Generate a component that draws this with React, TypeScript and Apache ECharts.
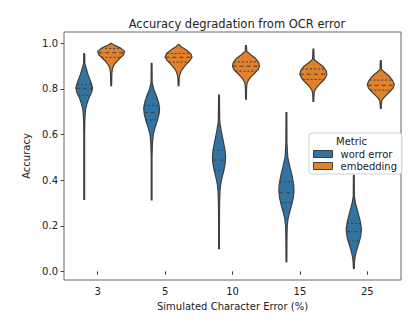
import React, { useEffect, useRef } from "react";
import * as echarts from "echarts";

const categories = ["3", "5", "10", "15", "25"];
const seriesNames = ["word error", "embedding"];
const yTicks = [0.0, 0.2, 0.4, 0.6, 0.8, 1.0];

// Violin outlines: [accuracy, relative half width]
const wordErrorProfiles: number[][][] = [
  [[0.955,0.03],[0.91,0.05],[0.89,0.15],[0.86,0.3],[0.83,0.5],[0.805,0.62],[0.785,0.55],[0.76,0.35],[0.735,0.2],[0.71,0.1],[0.68,0.06],[0.65,0.04],[0.6,0.03],[0.316,0.03]],
  [[0.912,0.03],[0.83,0.04],[0.8,0.15],[0.77,0.35],[0.74,0.52],[0.715,0.59],[0.69,0.55],[0.66,0.42],[0.63,0.25],[0.6,0.12],[0.57,0.07],[0.546,0.05],[0.5,0.03],[0.313,0.03]],
  [[0.773,0.03],[0.66,0.05],[0.62,0.15],[0.57,0.32],[0.53,0.45],[0.5,0.49],[0.47,0.45],[0.44,0.35],[0.41,0.22],[0.38,0.12],[0.35,0.07],[0.29,0.04],[0.2,0.03],[0.1,0.03]],
  [[0.696,0.03],[0.56,0.04],[0.5,0.1],[0.46,0.25],[0.42,0.42],[0.38,0.54],[0.35,0.56],[0.32,0.5],[0.29,0.38],[0.26,0.24],[0.23,0.12],[0.2,0.06],[0.15,0.04],[0.042,0.03]],
  [[0.422,0.03],[0.33,0.04],[0.3,0.12],[0.26,0.3],[0.22,0.48],[0.185,0.57],[0.15,0.5],[0.12,0.35],[0.09,0.2],[0.065,0.1],[0.04,0.05],[0.013,0.03]],
];
const embeddingProfiles: number[][][] = [
  [[1.0,0.03],[0.99,0.3],[0.98,0.7],[0.965,1.0],[0.95,0.92],[0.935,0.65],[0.92,0.4],[0.905,0.2],[0.89,0.1],[0.87,0.05],[0.84,0.04],[0.815,0.03]],
  [[0.995,0.03],[0.985,0.2],[0.97,0.6],[0.955,0.9],[0.94,1.0],[0.925,0.85],[0.91,0.6],[0.895,0.38],[0.88,0.2],[0.865,0.1],[0.85,0.05],[0.815,0.03]],
  [[0.99,0.03],[0.965,0.06],[0.95,0.35],[0.935,0.7],[0.915,0.95],[0.9,1.0],[0.885,0.9],[0.87,0.65],[0.855,0.4],[0.84,0.2],[0.825,0.08],[0.8,0.04],[0.755,0.03]],
  [[0.975,0.03],[0.93,0.06],[0.915,0.35],[0.9,0.7],[0.88,0.95],[0.865,1.0],[0.85,0.9],[0.835,0.7],[0.82,0.45],[0.805,0.22],[0.79,0.08],[0.77,0.04],[0.745,0.03]],
  [[0.925,0.03],[0.885,0.06],[0.87,0.35],[0.855,0.65],[0.835,0.9],[0.82,1.0],[0.805,0.92],[0.79,0.7],[0.775,0.45],[0.76,0.2],[0.75,0.08],[0.73,0.04],[0.715,0.03]],
];
// Quartiles [q3, median, q1]
const wordErrorQuartiles = [
  [0.82, 0.803, 0.773],
  [0.728, 0.697, 0.664],
  [0.532, 0.488, 0.444],
  [0.392, 0.345, 0.301],
  [0.21, 0.174, 0.134],
];
const embeddingQuartiles = [
  [0.978, 0.959, 0.939],
  [0.956, 0.939, 0.918],
  [0.919, 0.9, 0.878],
  [0.888, 0.865, 0.842],
  [0.839, 0.816, 0.795],
];

const colors = ["#3274a1", "#e1812c"];
const edge = "#3f3f3f";
const FONT = "DejaVu Sans";

function widthAt(profile: number[][], v: number): number {
  for (let i = 0; i < profile.length - 1; i++) {
    const [a, wa] = profile[i];
    const [b, wb] = profile[i + 1];
    if (v <= a && v >= b) {
      const t = (a - v) / (a - b || 1);
      return wa + (wb - wa) * t;
    }
  }
  return 0;
}

function makeRender(profiles: number[][][], quartiles: number[][], offset: number) {
  return (params: any, api: any) => {
    const idx = api.value(0);
    const profile = profiles[idx];
    const band = api.size([1, 0])[0];
    const maxHalf = band * 0.2;
    const cx = api.coord([idx, 0])[0] + offset * band;
    const right: number[][] = [];
    const left: number[][] = [];
    profile.forEach(([v, w]) => {
      const y = api.coord([idx, v])[1];
      right.push([cx + w * maxHalf, y]);
      left.push([cx - w * maxHalf, y]);
    });
    const points = right.concat(left.reverse());
    const children: any[] = [
      {
        type: "polygon",
        shape: { points },
        style: { fill: api.visual("color"), stroke: edge, lineWidth: 1.2 },
      },
    ];
    quartiles[idx].forEach((q, k) => {
      const w = widthAt(profile, q) * maxHalf;
      const y = api.coord([idx, q])[1];
      children.push({
        type: "line",
        shape: { x1: cx - w, y1: y, x2: cx + w, y2: y },
        style: {
          stroke: edge,
          lineWidth: 1,
          lineDash: k === 1 ? [4, 3] : [2, 2],
        },
      });
    });
    return { type: "group", children };
  };
}

export default function App() {
  const ref = useRef<HTMLDivElement>(null);
  useEffect(() => {
    if (!ref.current) return;
    const chart = echarts.init(ref.current, undefined, { renderer: "svg" });
    chart.setOption({
      animation: false,
      color: colors,
      backgroundColor: "#ffffff",
      textStyle: { fontFamily: FONT },
      title: {
        text: "Accuracy degradation from OCR error",
        left: 232,
        top: 13,
        textAlign: "center",
        textStyle: { fontFamily: FONT, fontSize: 11.5, fontWeight: "normal", color: "#222" },
      },
      grid: {
        left: 64,
        right: 17,
        top: 32,
        bottom: 43,
        show: true,
        borderColor: "#666",
        borderWidth: 1,
        backgroundColor: "transparent",
      },
      legend: {
        data: seriesNames,
        orient: "vertical",
        left: 309,
        top: 133,
        padding: [16, 5, 3, 4],
        itemGap: 2,
        itemWidth: 19,
        itemHeight: 7,
        icon: "rect",
        backgroundColor: "rgba(255,255,255,0.85)",
        borderColor: "#d0d0d0",
        borderWidth: 1,
        borderRadius: 3,
        itemStyle: { borderColor: edge, borderWidth: 1 },
        textStyle: { fontFamily: FONT, fontSize: 10, color: "#222", padding: [0, 0, 0, 3] },
      },
      graphic: [
        {
          type: "text",
          left: 336,
          top: 136,
          z: 100,
          style: { text: "Metric", fontFamily: FONT, fontSize: 10, fill: "#222" },
        },
      ],
      xAxis: {
        type: "category",
        data: categories,
        boundaryGap: true,
        name: "Simulated Character Error (%)",
        nameLocation: "middle",
        nameGap: 21,
        nameTextStyle: { fontFamily: FONT, fontSize: 10, color: "#222" },
        axisLine: { show: false },
        axisTick: { show: true, alignWithLabel: true, length: 3.5, lineStyle: { color: "#444" } },
        axisLabel: { fontFamily: FONT, fontSize: 10, color: "#222", margin: 6 },
        splitLine: { show: false },
      },
      yAxis: {
        type: "value",
        min: -0.038,
        max: 1.05,
        name: "Accuracy",
        nameLocation: "middle",
        nameGap: 25,
        nameTextStyle: { fontFamily: FONT, fontSize: 10, color: "#222" },
        axisLine: { show: false },
        axisTick: { show: true, length: 3.5, lineStyle: { color: "#444" }, customValues: yTicks },
        axisLabel: {
          fontFamily: FONT,
          fontSize: 10,
          color: "#222",
          margin: 6,
          customValues: yTicks,
          formatter: (v: number) => v.toFixed(1),
        },
        splitLine: { show: false },
      },
      series: [
        {
          name: seriesNames[0],
          type: "custom",
          renderItem: makeRender(wordErrorProfiles, wordErrorQuartiles, -0.2),
          data: categories.map((_, i) => [i, wordErrorQuartiles[i][1]]),
          encode: { x: 0, y: 1 },
          z: 3,
        },
        {
          name: seriesNames[1],
          type: "custom",
          renderItem: makeRender(embeddingProfiles, embeddingQuartiles, 0.2),
          data: categories.map((_, i) => [i, embeddingQuartiles[i][1]]),
          encode: { x: 0, y: 1 },
          z: 3,
        },
      ],
    });
    return () => chart.dispose();
  }, []);
  return <div ref={ref} style={{ width: 418, height: 323, margin: -8 }} />;
}
